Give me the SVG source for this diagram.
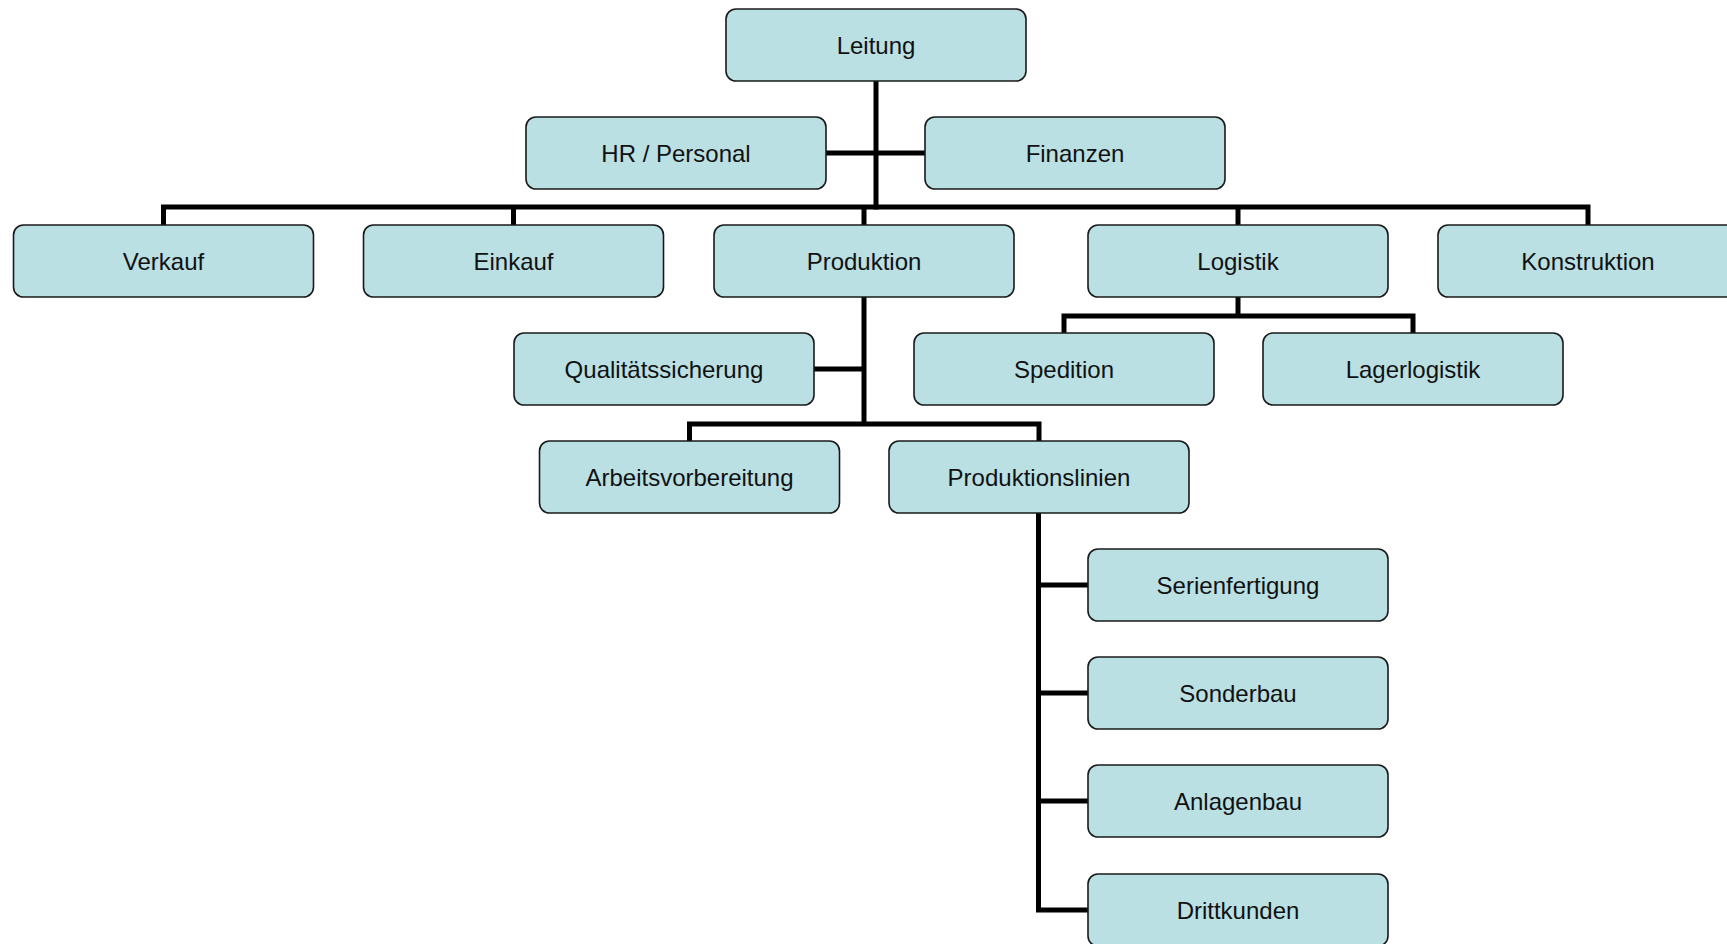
<svg xmlns="http://www.w3.org/2000/svg" width="1727" height="944" viewBox="0 0 1727 944">
  <style>
    .box { fill: #BAE0E3; stroke: #1a1a1a; stroke-width: 1.6; }
    .lbl { font-family: "Liberation Sans", Arial, sans-serif; font-size: 24px; fill: #111; text-anchor: middle; }
    .wire { fill: none; stroke: #000; stroke-width: 5; stroke-linejoin: miter; stroke-linecap: butt; }
  </style>
  <rect width="1727" height="944" fill="#fff"/>

  <!-- connectors -->
  <g id="connectors" class="wire">
    <!-- Leitung to staff units and main bus -->
    <path d="M876 81 V209.5"/>
    <path d="M826 153 H925"/>
    <path d="M163.5 225 V207 H1588 V225"/>
    <path d="M513.5 207 V225"/>
    <path d="M864 207 V225"/>
    <path d="M1238 207 V225"/>
    <!-- Produktion subtree -->
    <path d="M864 297 V424"/>
    <path d="M814 369 H864"/>
    <path d="M689.5 441 V424 H1039 V441"/>
    <!-- Logistik subtree -->
    <path d="M1238 297 V316"/>
    <path d="M1064 333 V316 H1413 V333"/>
    <!-- Produktionslinien subtree -->
    <path d="M1038.5 513 V910 H1088"/>
    <path d="M1038.5 585 H1088"/>
    <path d="M1038.5 693 H1088"/>
    <path d="M1038.5 801 H1088"/>
  </g>

  <g id="n-leitung"><rect class="box" x="726" y="9" width="300" height="72" rx="10"/><text class="lbl" x="876" y="54">Leitung</text></g>
  <g id="n-hr"><rect class="box" x="526" y="117" width="300" height="72" rx="10"/><text class="lbl" x="676" y="162">HR / Personal</text></g>
  <g id="n-finanzen"><rect class="box" x="925" y="117" width="300" height="72" rx="10"/><text class="lbl" x="1075" y="162">Finanzen</text></g>

  <g id="n-verkauf"><rect class="box" x="13.5" y="225" width="300" height="72" rx="10"/><text class="lbl" x="163.5" y="270">Verkauf</text></g>
  <g id="n-einkauf"><rect class="box" x="363.5" y="225" width="300" height="72" rx="10"/><text class="lbl" x="513.5" y="270">Einkauf</text></g>
  <g id="n-produktion"><rect class="box" x="714" y="225" width="300" height="72" rx="10"/><text class="lbl" x="864" y="270">Produktion</text></g>
  <g id="n-logistik"><rect class="box" x="1088" y="225" width="300" height="72" rx="10"/><text class="lbl" x="1238" y="270">Logistik</text></g>
  <g id="n-konstruktion"><rect class="box" x="1438" y="225" width="300" height="72" rx="10"/><text class="lbl" x="1588" y="270">Konstruktion</text></g>

  <g id="n-qs"><rect class="box" x="514" y="333" width="300" height="72" rx="10"/><text class="lbl" x="664" y="378">Qualitätssicherung</text></g>
  <g id="n-spedition"><rect class="box" x="914" y="333" width="300" height="72" rx="10"/><text class="lbl" x="1064" y="378">Spedition</text></g>
  <g id="n-lager"><rect class="box" x="1263" y="333" width="300" height="72" rx="10"/><text class="lbl" x="1413" y="378">Lagerlogistik</text></g>

  <g id="n-av"><rect class="box" x="539.5" y="441" width="300" height="72" rx="10"/><text class="lbl" x="689.5" y="486">Arbeitsvorbereitung</text></g>
  <g id="n-linien"><rect class="box" x="889" y="441" width="300" height="72" rx="10"/><text class="lbl" x="1039" y="486">Produktionslinien</text></g>

  <g id="n-serie"><rect class="box" x="1088" y="549" width="300" height="72" rx="10"/><text class="lbl" x="1238" y="594">Serienfertigung</text></g>
  <g id="n-sonder"><rect class="box" x="1088" y="657" width="300" height="72" rx="10"/><text class="lbl" x="1238" y="702">Sonderbau</text></g>
  <g id="n-anlagen"><rect class="box" x="1088" y="765" width="300" height="72" rx="10"/><text class="lbl" x="1238" y="810">Anlagenbau</text></g>
  <g id="n-dritt"><rect class="box" x="1088" y="874" width="300" height="72" rx="10"/><text class="lbl" x="1238" y="919">Drittkunden</text></g>
</svg>
